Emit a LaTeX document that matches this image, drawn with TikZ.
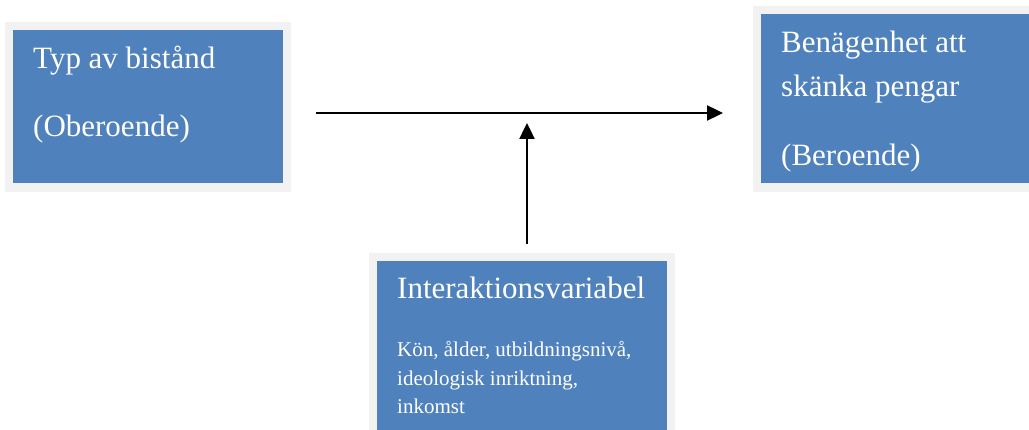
\documentclass[tikz,border=0pt]{standalone}
\usepackage{fontspec}
\setmainfont{Liberation Serif}
\usetikzlibrary{arrows.meta}
\definecolor{boxblue}{HTML}{4F81BD}
\definecolor{boxgray}{HTML}{F2F2F2}
\tikzset{
  outerbox/.style={fill=boxgray, draw=none},
  innerbox/.style={fill=boxblue, draw=none},
  bigtext/.style={anchor=base west, inner sep=0pt, text=white, font=\fontsize{31}{36}\selectfont},
  smalltext/.style={anchor=base west, inner sep=0pt, text=white, font=\fontsize{21}{25}\selectfont},
  conn/.style={line width=2.4pt, -{Triangle[length=16pt,width=15pt]}}
}
\begin{document}
\begin{tikzpicture}[x=1pt,y=-1pt]
\useasboundingbox (0,0) rectangle (1029,430);
\clip (0,0) rectangle (1029,430);
\fill[white] (0,0) rectangle (1029,430);
% left box
\fill[outerbox] (5,22) rectangle (291,192);
\node[innerbox, anchor=north west, minimum width=270pt, minimum height=153pt, inner sep=0pt] (indep) at (13,30) {};
\node[bigtext] (t1) at (33,69) {Typ av bistånd};
\node[bigtext] (t2) at (33,137) {(Oberoende)};
% right box
\fill[outerbox] (753,6) rectangle (1040,192);
\node[innerbox, anchor=north west, minimum width=279pt, minimum height=169pt, inner sep=0pt] (dep) at (761,14) {};
\node[bigtext] (t3) at (781,53) {Benägenhet att};
\node[bigtext] (t4) at (781,97) {skänka pengar};
\node[bigtext] (t5) at (781,166) {(Beroende)};
% bottom box
\fill[outerbox] (369,253) rectangle (675,440);
\node[innerbox, anchor=north west, minimum width=290pt, minimum height=179pt, inner sep=0pt] (inter) at (377,261) {};
\node[bigtext] (t6) at (397,299) {Interaktionsvariabel};
\node[smalltext] (t7) at (397,357) {Kön, ålder, utbildningsnivå,};
\node[smalltext] (t8) at (397,386) {ideologisk inriktning,};
\node[smalltext] (t9) at (397,414) {inkomst};
% connectors
\coordinate (hstart) at (316,113);
\coordinate (hend) at (723,113);
\coordinate (vstart) at (527,244);
\coordinate (vend) at (527,123);
\draw[conn] (hstart) -- (hend);
\draw[conn] (vstart) -- (vend);
\end{tikzpicture}
\end{document}
